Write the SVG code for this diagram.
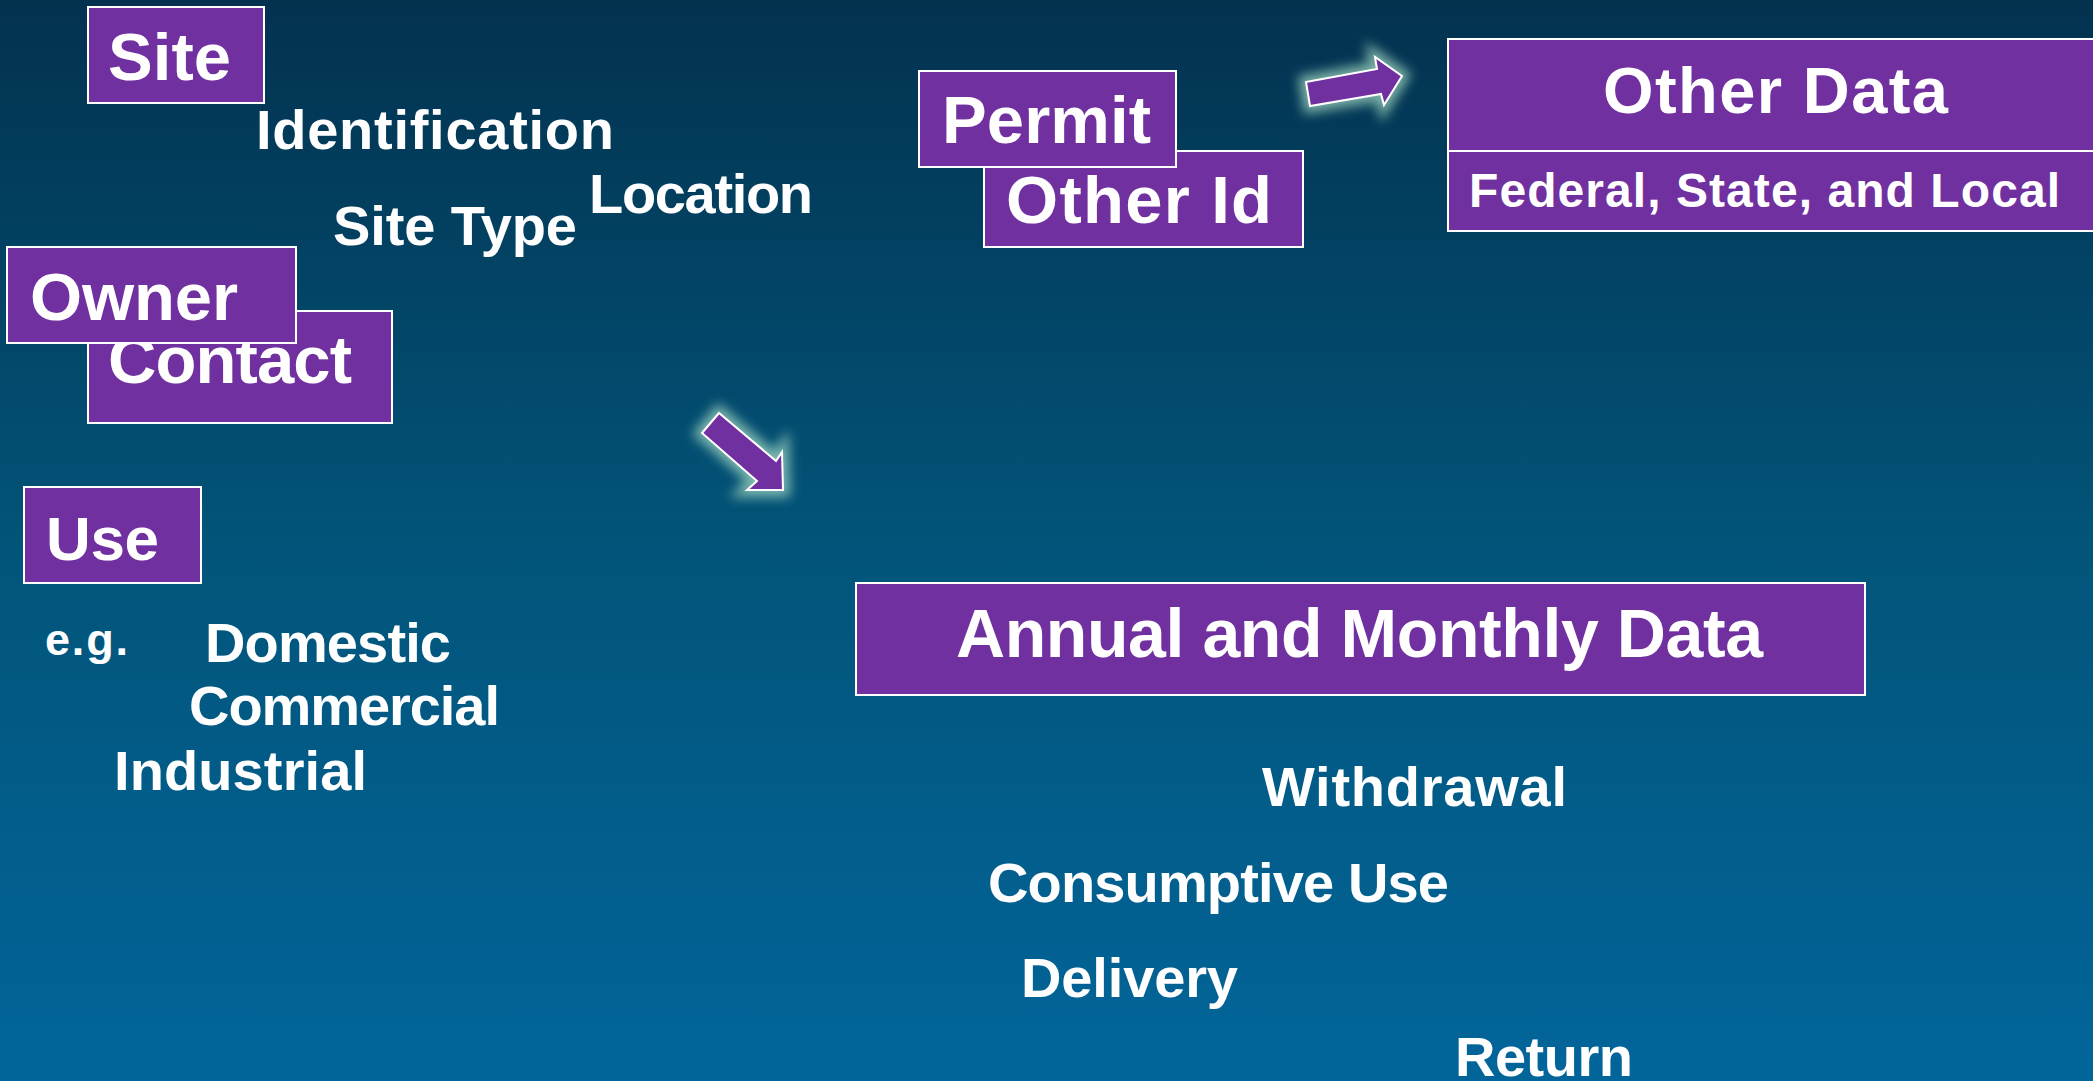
<svg xmlns="http://www.w3.org/2000/svg" width="2093" height="1081" viewBox="0 0 2093 1081">
<defs>
<linearGradient id="bg" x1="0" y1="0" x2="0" y2="1">
<stop offset="0" stop-color="#03324f"/>
<stop offset="0.5" stop-color="#025479"/>
<stop offset="1" stop-color="#02659a"/>
</linearGradient>
<filter id="glow" x="-50%" y="-50%" width="200%" height="200%">
<feGaussianBlur stdDeviation="6"/>
</filter>
<style>
.box{fill:#7030a0;stroke:#ffffff;stroke-width:2}
.t{font-family:"Liberation Sans",Arial,sans-serif;font-weight:bold;fill:#ffffff}
.big{font-size:67px}
.mid{font-size:56px}
.arrow{fill:#7030a0;stroke:#ffffff;stroke-width:2;stroke-linejoin:miter}
.halo{fill:#b0e4c8;stroke:#b0e4c8;stroke-width:14;opacity:0.7}
</style>
</defs>
<rect x="0" y="0" width="2093" height="1081" fill="url(#bg)"/>

<g id="site">
<rect class="box" x="88" y="7" width="176" height="96"/>
<text class="t big" x="108" y="80" textLength="123" lengthAdjust="spacing">Site</text>
</g>
<g id="site-details">
<text class="t mid" x="256" y="149" textLength="358" lengthAdjust="spacing">Identification</text>
<text class="t mid" x="589" y="213" textLength="224" lengthAdjust="spacing">Location</text>
<text class="t mid" x="333" y="245" textLength="244" lengthAdjust="spacing">Site Type</text>
</g>
<g id="contact">
<rect class="box" x="88" y="311" width="304" height="112"/>
<text class="t big" x="108" y="383" textLength="244" lengthAdjust="spacing">Contact</text>
</g>
<g id="owner">
<rect class="box" x="7" y="247" width="289" height="96"/>
<text class="t big" x="30" y="320" textLength="208" lengthAdjust="spacing">Owner</text>
</g>
<g id="use">
<rect class="box" x="24" y="487" width="177" height="96"/>
<text class="t" style="font-size:62px" x="46" y="560" textLength="113" lengthAdjust="spacing">Use</text>
</g>
<g id="use-examples">
<text class="t" style="font-size:45px" x="45" y="655" textLength="83" lengthAdjust="spacing">e.g.</text>
<text class="t mid" x="205" y="662" textLength="246" lengthAdjust="spacing">Domestic</text>
<text class="t mid" x="189" y="725" textLength="311" lengthAdjust="spacing">Commercial</text>
<text class="t mid" x="114" y="790" textLength="253" lengthAdjust="spacing">Industrial</text>
</g>
<g id="other-id">
<rect class="box" x="984" y="151" width="319" height="96"/>
<text class="t big" x="1006" y="223" textLength="266" lengthAdjust="spacing">Other Id</text>
</g>
<g id="permit">
<rect class="box" x="919" y="71" width="257" height="96"/>
<text class="t big" x="942" y="143" textLength="209" lengthAdjust="spacing">Permit</text>
</g>
<g id="other-data">
<rect class="box" x="1448" y="39" width="700" height="112"/>
<text class="t" style="font-size:65px" x="1603" y="113" textLength="345" lengthAdjust="spacing">Other Data</text>
<rect class="box" x="1448" y="151" width="700" height="80"/>
<text class="t" style="font-size:48px" x="1469" y="207" textLength="591" lengthAdjust="spacing">Federal, State, and Local</text>
</g>
<g id="annual">
<rect class="box" x="856" y="583" width="1009" height="112"/>
<text class="t" style="font-size:68px" x="956" y="657" textLength="807" lengthAdjust="spacing">Annual and Monthly Data</text>
</g>
<g id="annual-details">
<text class="t mid" x="1262" y="806" textLength="305" lengthAdjust="spacing">Withdrawal</text>
<text class="t mid" x="988" y="902" textLength="461" lengthAdjust="spacing">Consumptive Use</text>
<text class="t mid" x="1021" y="997" textLength="217" lengthAdjust="spacing">Delivery</text>
<text class="t mid" x="1455" y="1076" textLength="178" lengthAdjust="spacing">Return</text>
</g>

<g id="connectors">
<g id="arrow-down-right">
<polygon class="halo" filter="url(#glow)" points="719,413 776,461 782,452 783,490 747,490 757,481 702,433"/>
<polygon class="arrow" points="719,413 776,461 782,452 783,490 747,490 757,481 702,433"/>
</g>
<g id="arrow-right">
<polygon class="halo" filter="url(#glow)" points="1306,82 1377,69 1375,57 1402,76 1384,105 1381,94 1310,106"/>
<polygon class="arrow" points="1306,82 1377,69 1375,57 1402,76 1384,105 1381,94 1310,106"/>
</g>
</g>
</svg>
